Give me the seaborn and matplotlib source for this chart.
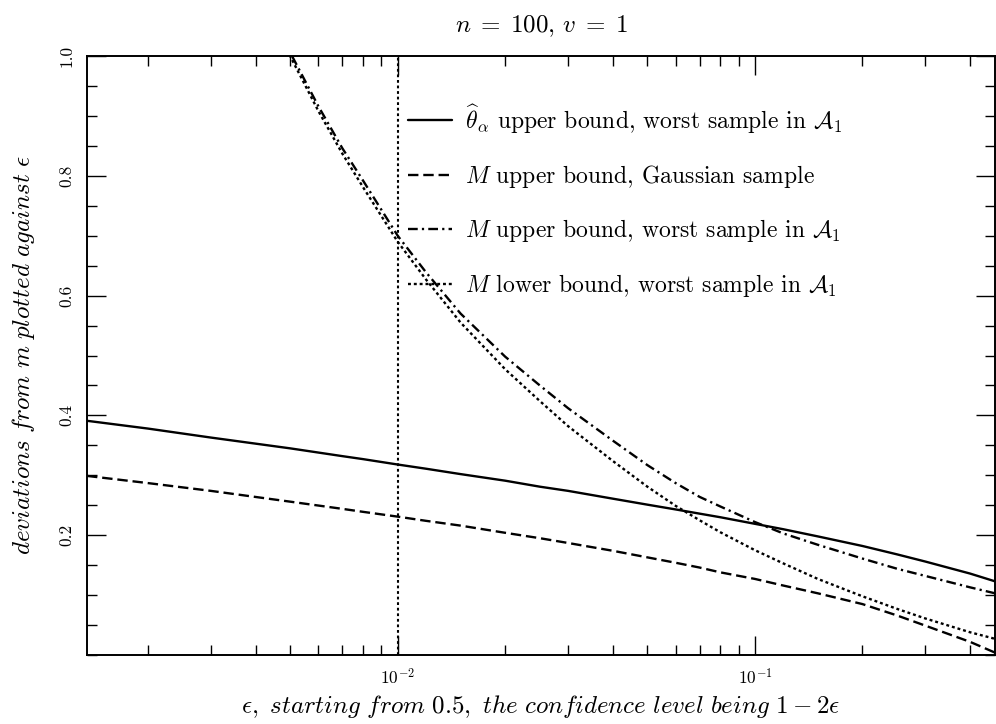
import numpy as np
import pandas as pd
import matplotlib
matplotlib.use("Agg")
import matplotlib.pyplot as plt
from matplotlib.ticker import MultipleLocator, FixedLocator
import seaborn as sns

# ---- data ----
eps_full = [0.00135, 0.002, 0.003, 0.005, 0.007, 0.008, 0.01, 0.012, 0.015,
            0.02, 0.025, 0.03, 0.04, 0.05, 0.06, 0.07, 0.08, 0.1, 0.12,
            0.15, 0.2, 0.25, 0.3, 0.4, 0.47]
theta_upper = [0.391, 0.378, 0.363, 0.345, 0.332, 0.327, 0.318, 0.311, 0.302,
               0.291, 0.281, 0.274, 0.261, 0.251, 0.243, 0.236, 0.230, 0.219,
               0.210, 0.198, 0.182, 0.168, 0.156, 0.136, 0.123]
m_upper_gauss = [0.299, 0.287, 0.274, 0.256, 0.244, 0.239, 0.231, 0.224, 0.216,
                 0.204, 0.195, 0.187, 0.174, 0.163, 0.154, 0.146, 0.138, 0.127,
                 0.116, 0.103, 0.085, 0.066, 0.049, 0.022, 0.004]
eps_part = [0.0045, 0.005, 0.006, 0.007, 0.008, 0.01, 0.012, 0.015, 0.02,
            0.025, 0.03, 0.04, 0.05, 0.06, 0.07, 0.08, 0.1, 0.12, 0.15,
            0.2, 0.25, 0.3, 0.4, 0.47]
m_upper_worst = [1.06, 1.006, 0.916, 0.846, 0.792, 0.700, 0.639, 0.570, 0.498,
                 0.450, 0.412, 0.358, 0.317, 0.287, 0.264, 0.248, 0.222, 0.203,
                 0.184, 0.161, 0.144, 0.132, 0.113, 0.103]
m_lower_worst = [1.054, 1.0, 0.908, 0.837, 0.781, 0.690, 0.627, 0.555, 0.477,
                 0.424, 0.382, 0.324, 0.281, 0.249, 0.225, 0.205, 0.175, 0.153,
                 0.127, 0.098, 0.077, 0.061, 0.038, 0.027]
eps_marker = 0.01

labels = [
    r'$\widehat{\theta}_\alpha$ upper bound, worst sample in $\mathcal{A}_1$',
    r'$M$ upper bound, Gaussian sample',
    r'$M$ upper bound, worst sample in $\mathcal{A}_1$',
    r'$M$ lower bound, worst sample in $\mathcal{A}_1$',
]
title = r'$n\;=\;100,\,v\;=\;1$'
xlabel = r'$\epsilon,\ \mathit{starting\ from}\ 0.5,\ \mathit{the\ confidence\ level\ being}\ 1-2\epsilon$'
ylabel = r'$\mathit{deviations\ from\ m\ plotted\ against}\ \epsilon$'
ytick_vals = [0.2, 0.4, 0.6, 0.8, 1.0]
ytick_labels = ['0.2', '0.4', '0.6', '0.8', '1.0']

df = pd.concat([
    pd.DataFrame({'eps': eps_full, 'dev': theta_upper, 'series': labels[0]}),
    pd.DataFrame({'eps': eps_full, 'dev': m_upper_gauss, 'series': labels[1]}),
    pd.DataFrame({'eps': eps_part, 'dev': m_upper_worst, 'series': labels[2]}),
    pd.DataFrame({'eps': eps_part, 'dev': m_lower_worst, 'series': labels[3]}),
], ignore_index=True)

sns.set_theme(style='ticks')
plt.rcParams.update({
    'font.family': ['cmr10', 'DejaVu Serif'],
    'mathtext.fontset': 'cm',
    'axes.formatter.use_mathtext': True,
    'axes.unicode_minus': True,
    'lines.scale_dashes': False,
    'axes.edgecolor': 'black',
    'axes.linewidth': 1.4,
    'xtick.color': 'black',
    'ytick.color': 'black',
    'text.color': 'black',
    'axes.labelcolor': 'black',
})

dash_map = {
    labels[0]: '',
    labels[1]: (7.5, 3.5),
    labels[2]: (7.0, 3.0, 1.6, 3.0),
    labels[3]: (2.1, 2.1),
}

fig = plt.figure(figsize=(9.96, 7.24), dpi=100)
ax = fig.add_axes([87/996, (724-655)/724, (995-87)/996, (655-56)/724])

sns.lineplot(data=df, x='eps', y='dev', style='series', style_order=labels,
             dashes=dash_map, color='black', linewidth=1.7, legend=False,
             estimator=None, ax=ax)
ax.axvline(eps_marker, color='black', linewidth=1.5, dashes=(2.0, 2.0))

ax.set_xscale('log')
ax.set_xlim(0.00135, 0.47)
ax.set_ylim(0.0, 1.0)
ax.yaxis.set_major_locator(FixedLocator(ytick_vals))
ax.set_yticklabels(ytick_labels, rotation=90, va='center')
ax.yaxis.set_minor_locator(MultipleLocator(0.05))

ax.tick_params(which='both', direction='in', top=True, right=True,
               colors='black', labelsize=12.5)
ax.tick_params(which='major', length=14, width=1.0, pad=9)
ax.tick_params(which='minor', length=7.5, width=1.0)

ax.set_title(title, fontsize=18, pad=17)
ax.set_xlabel(xlabel, fontsize=18, labelpad=4)
ax.set_ylabel(ylabel, fontsize=18, labelpad=16)

handles = ax.get_lines()[:4]
leg = ax.legend(handles, labels, loc='upper left',
                bbox_to_anchor=((408-87)/908, (655-102)/599),
                frameon=False, fontsize=17, handlelength=1.85,
                handletextpad=0.55, labelspacing=1.16, borderpad=0,
                borderaxespad=0)

for s in ax.spines.values():
    s.set_visible(True)
    s.set_color('black')

fig.savefig('out.png', dpi=100)
